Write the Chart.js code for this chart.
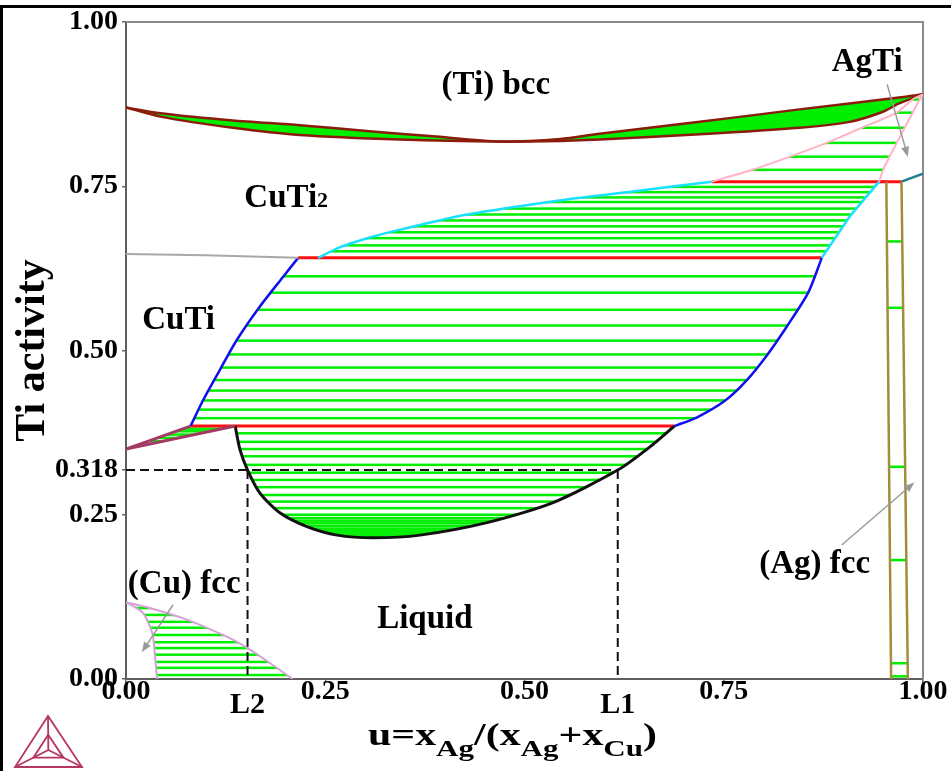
<!DOCTYPE html>
<html>
<head>
<meta charset="utf-8">
<script src="https://cdn.jsdelivr.net/npm/chart.js@4.4.1/dist/chart.umd.min.js"></script>
<style>
html,body{margin:0;padding:0;background:#fff;}
canvas{display:block;}
</style>
</head>
<body>
<canvas id="c" width="951" height="771"></canvas>
<script>
// ---------- axis ticks ----------
const xTickValues = [0, 0.1525, 0.25, 0.5, 0.617, 0.75, 1];
const xTickLabels = ['0.00', 'L2', '0.25', '0.50', 'L1', '0.75', '1.00'];
const yTickValues = [0, 0.25, 0.318, 0.5, 0.75, 1];
const yTickLabels = ['0.00', '0.25', '0.318', '0.50', '0.75', '1.00'];

// ---------- phase boundaries: [u, Ti activity] ----------
const bccUpper = [[0,0.870],[0.043,0.861],[0.134,0.850],[0.218,0.843],[0.302,0.834],[0.385,0.826],[0.469,0.818],[0.545,0.822],[0.594,0.830],[0.720,0.848],[0.845,0.867],[0.970,0.885],[1,0.890]];
const bccLower = [[0,0.870],[0.043,0.856],[0.134,0.839],[0.218,0.828],[0.344,0.821],[0.469,0.818],[0.545,0.819],[0.594,0.821],[0.720,0.829],[0.845,0.839],[0.908,0.848],[0.949,0.863],[0.970,0.876],[1,0.890]];
const cuTiCuTi2 = [[0,0.647],[0.10,0.645],[0.216,0.641]];
const tie641 = [[0.216,0.641],[0.873,0.641]];
const tie757 = [[0.735,0.757],[0.973,0.757]];
const tie385 = [[0.081,0.385],[0.688,0.385]];
const cyanUpper = [[0.241,0.641],[0.268,0.657],[0.306,0.672],[0.344,0.684],[0.428,0.707],[0.553,0.730],[0.636,0.742],[0.735,0.757]];
const cyanRight = [[0.945,0.757],[0.908,0.704],[0.873,0.641]];
const blueLeft = [[0.216,0.641],[0.197,0.612],[0.168,0.567],[0.139,0.516],[0.118,0.471],[0.097,0.425],[0.081,0.385]];
const blueRight = [[0.688,0.385],[0.716,0.398],[0.751,0.423],[0.779,0.455],[0.805,0.494],[0.830,0.538],[0.856,0.588],[0.873,0.641]];
const liquidGap = [[0.137,0.385],[0.143,0.349],[0.1525,0.318],[0.168,0.283],[0.193,0.253],[0.227,0.232],[0.265,0.219],[0.310,0.215],[0.369,0.219],[0.453,0.238],[0.535,0.268],[0.617,0.318],[0.657,0.353],[0.688,0.385]];
const wedgeUpper = [[0,0.350],[0.081,0.385]];
const wedgeLower = [[0,0.350],[0.137,0.385]];
const cuFccSolvus = [[0,0.117],[0.021,0.101],[0.033,0.070],[0.036,0.040],[0.039,0]];
const cuFccLiquidus = [[0,0.117],[0.030,0.108],[0.077,0.090],[0.127,0.064],[0.1525,0.047],[0.181,0.024],[0.209,0]];
const agTiLeft = [[0.735,0.757],[0.786,0.775],[0.833,0.795],[0.879,0.816],[0.923,0.839],[0.967,0.862],[0.987,0.882],[1,0.890]];
const agTiRight = [[0.945,0.757],[0.950,0.775],[0.958,0.795],[0.967,0.816],[0.977,0.839],[0.987,0.862],[0.996,0.882],[1,0.890]];
const agFccLeft = [[0.954,0.757],[0.960,0]];
const agFccRight = [[0.973,0.757],[0.981,0]];
const tealLine = [[0.973,0.757],[1,0.769]];
const purpleBit = [[0.945,0.757],[0.954,0.757]];

// ---------- guide lines (L2, L1 at Ti activity 0.318) ----------
const guideY = 0.318, L2 = 0.1525, L1 = 0.617;

// ---------- tie-line levels (Ti activity) ----------
const tiesCuTiLiq = [0.613,0.588,0.562,0.538,0.515,0.494,0.474,0.455,0.439,0.424,0.410,0.397];
const tiesCuTi2Liq = [0.651,0.660,0.671,0.680,0.689,0.698,0.707,0.716,0.726,0.733,0.741,0.749];
const tiesAgTiLiq = [0.775,0.795,0.816,0.839,0.862,0.882];
const tiesLiqLiq = [0.374,0.361,0.350,0.339,0.326,0.314,0.303,0.292,0.280,0.270,0.260,0.250,0.245,0.241,0.237,0.233,0.229,0.226,0.223,0.220,0.217];
const tiesCuFcc = [0.108,0.0975,0.087,0.078,0.067,0.056,0.047,0.037,0.026,0.017,0.006];
const tiesWedge = [0.356,0.362,0.367,0.372,0.377,0.381];
const tiesAgFcc = [0.666,0.565,0.323,0.181,0.024,0.004];

// ---------- labels ----------
const phaseLabels = [
  {text:'(Ti) bcc', u:0.464, a:0.890},
  {text:'AgTi', u:0.930, a:0.925},
  {text:'CuTi', sub:'2', u:0.201, a:0.719},
  {text:'CuTi', u:0.066, a:0.532},
  {text:'(Cu) fcc', u:0.073, a:0.131},
  {text:'Liquid', u:0.375, a:0.078},
  {text:'(Ag) fcc', u:0.864, a:0.161}
];
const labelArrows = [
  {from:[0.955,0.905], to:[0.981,0.795]},
  {from:[0.059,0.113], to:[0.020,0.041]},
  {from:[0.898,0.204], to:[0.989,0.299]}
];
const xTitleParts = [['u=x',0],['Ag',1],['/(x',0],['Ag',1],['+x',0],['Cu',1],[')',0]];

const SERIF = '"Liberation Serif", "Times New Roman", serif';
const GREEN = '#00ee00';

const XY = arr => arr.map(p => ({x:p[0], y:p[1]}));
const rev = arr => arr.slice().reverse();

function hatch(levels, width) {
  return (ctx) => {
    const chart = ctx.chart;
    if (!chart || !chart.chartArea || !chart.scales || !chart.scales.y) return 'rgba(0,0,0,0)';
    const ys = chart.scales.y;
    const c = document.createElement('canvas');
    c.width = 8; c.height = Math.ceil(chart.height);
    const g = c.getContext('2d');
    g.fillStyle = GREEN;
    levels.forEach(l => {
      const y = ys.getPixelForValue(l);
      g.fillRect(0, y - width / 2, 8, width);
    });
    return chart.ctx.createPattern(c, 'repeat');
  };
}

function lineDS(pts, color, width, extra) {
  return Object.assign({
    data: XY(pts), borderColor: color, borderWidth: width,
    pointRadius: 0, pointHoverRadius: 0, pointHitRadius: 0,
    fill: false, tension: 0, order: 1
  }, extra || {});
}
function regionDS(poly, bg) {
  return {
    data: XY(poly), borderColor: 'rgba(0,0,0,0)', borderWidth: 0,
    pointRadius: 0, pointHoverRadius: 0, pointHitRadius: 0,
    fill: 'shape', backgroundColor: bg, tension: 0, order: 10
  };
}

const datasets = [
  // hatched / filled regions
  regionDS(blueLeft.concat(blueRight), hatch(tiesCuTiLiq, 2.5)),
  regionDS(cyanUpper.concat(cyanRight), hatch(tiesCuTi2Liq, 2.5)),
  regionDS(agTiLeft.concat(rev(agTiRight)), hatch(tiesAgTiLiq, 2.5)),
  regionDS(liquidGap, hatch(tiesLiqLiq, 2.5)),
  regionDS(cuFccSolvus.concat(rev(cuFccLiquidus)), hatch(tiesCuFcc, 2.5)),
  regionDS(wedgeUpper.concat(rev(wedgeLower)), hatch(tiesWedge, 2.5)),
  regionDS(agFccLeft.concat(rev(agFccRight)), hatch(tiesAgFcc, 2.5)),
  regionDS(bccUpper.concat(rev(bccLower)), GREEN),
  // guide dashed lines
  lineDS([[0,guideY],[L1,guideY]], '#111', 2, {borderDash:[9,5], order:2}),
  lineDS([[L2,guideY],[L2,0]], '#111', 2, {borderDash:[9,5], order:2}),
  lineDS([[L1,guideY],[L1,0]], '#111', 2, {borderDash:[9,5], order:2}),
  // boundaries
  lineDS(cuTiCuTi2, '#a8a8a8', 2),
  lineDS(agTiLeft, '#ffb3c3', 2, {tension:0.25}),
  lineDS(agTiRight, '#ffb3c3', 2, {tension:0.25}),
  lineDS(cuFccSolvus, '#d6a0d8', 2, {tension:0.25}),
  lineDS(cuFccLiquidus, '#d6a0d8', 2, {tension:0.25}),
  lineDS(agFccLeft, '#a38d3a', 2.5),
  lineDS(agFccRight, '#a38d3a', 2.5),
  lineDS(tealLine, '#1f7f8f', 2.5),
  lineDS(wedgeUpper, '#a33a63', 3),
  lineDS(wedgeLower, '#a33a63', 3),
  lineDS(cyanUpper, '#18e0ff', 2.5, {tension:0.25}),
  lineDS(cyanRight, '#18e0ff', 2.5),
  lineDS(blueLeft, '#1010ee', 2.5, {tension:0.25}),
  lineDS(blueRight, '#1010ee', 2.5, {tension:0.25}),
  lineDS(liquidGap, '#111111', 3, {tension:0.25}),
  lineDS(tie641, '#ff1010', 3),
  lineDS(tie757, '#ff1010', 3),
  lineDS(tie385, '#ff1010', 3),
  lineDS(purpleBit, '#9b4dff', 3),
  lineDS(bccUpper, '#8b1c0c', 2.5, {tension:0.25}),
  lineDS(bccLower, '#8b1c0c', 2.5, {tension:0.25})
];

const decorPlugin = {
  id: 'decor',
  beforeDatasetsDraw(chart) {
    const {ctx, chartArea: a} = chart;
    ctx.save();
    ctx.strokeStyle = '#8c8c8c'; ctx.lineWidth = 2;
    ctx.beginPath();
    ctx.moveTo(a.left, a.top); ctx.lineTo(a.right, a.top); ctx.lineTo(a.right, a.bottom);
    ctx.stroke();
    ctx.restore();
  },
  afterDraw(chart) {
    const {ctx} = chart;
    const xs = chart.scales.x, ys = chart.scales.y;
    const P = (u, v) => [xs.getPixelForValue(u), ys.getPixelForValue(v)];
    ctx.save();
    // arrows
    ctx.strokeStyle = '#9a9a9a'; ctx.fillStyle = '#9a9a9a'; ctx.lineWidth = 1.5;
    labelArrows.forEach(ar => {
      const [x1, y1] = P(ar.from[0], ar.from[1]);
      const [x2, y2] = P(ar.to[0], ar.to[1]);
      const ang = Math.atan2(y2 - y1, x2 - x1);
      ctx.beginPath(); ctx.moveTo(x1, y1); ctx.lineTo(x2 - 6 * Math.cos(ang), y2 - 6 * Math.sin(ang)); ctx.stroke();
      ctx.beginPath();
      ctx.moveTo(x2, y2);
      ctx.lineTo(x2 - 10 * Math.cos(ang) + 4 * Math.sin(ang), y2 - 10 * Math.sin(ang) - 4 * Math.cos(ang));
      ctx.lineTo(x2 - 10 * Math.cos(ang) - 4 * Math.sin(ang), y2 - 10 * Math.sin(ang) + 4 * Math.cos(ang));
      ctx.closePath(); ctx.fill();
    });
    // phase labels
    ctx.fillStyle = '#000';
    ctx.textBaseline = 'alphabetic';
    phaseLabels.forEach(l => {
      const [x, y] = P(l.u, l.a);
      ctx.font = 'bold 33px ' + SERIF;
      const w1 = ctx.measureText(l.text).width;
      let w2 = 0;
      if (l.sub) { ctx.font = 'bold 22px ' + SERIF; w2 = ctx.measureText(l.sub).width; }
      const x0 = x - (w1 + w2) / 2;
      ctx.font = 'bold 33px ' + SERIF;
      ctx.textAlign = 'left';
      ctx.fillText(l.text, x0, y);
      if (l.sub) { ctx.font = 'bold 22px ' + SERIF; ctx.fillText(l.sub, x0 + w1, y); }
    });
    // x axis title with subscripts
    const mainF = 'bold 31px ' + SERIF, subF = 'bold 23px ' + SERIF;
    let total = 0;
    xTitleParts.forEach(p => { ctx.font = p[1] ? subF : mainF; total += ctx.measureText(p[0]).width; });
    const target = 289, sx = target / total;
    ctx.save();
    ctx.translate(512.5 - target / 2, 0);
    ctx.scale(sx, 1);
    let cx = 0;
    xTitleParts.forEach(p => {
      ctx.font = p[1] ? subF : mainF;
      ctx.fillText(p[0], cx, p[1] ? 756 : 745);
      cx += ctx.measureText(p[0]).width;
    });
    ctx.restore();
    // Thermo-Calc style logo
    ctx.strokeStyle = '#b5375e'; ctx.lineWidth = 1.8;
    const A = [48, 716], B = [15, 767], C = [82, 767];
    const G = [(A[0] + B[0] + C[0]) / 3, (A[1] + B[1] + C[1]) / 3];
    const inner = [A, B, C].map(p => [G[0] + (p[0] - G[0]) * 0.45, G[1] + (p[1] - G[1]) * 0.45]);
    ctx.beginPath(); ctx.moveTo(A[0], A[1]); ctx.lineTo(B[0], B[1]); ctx.lineTo(C[0], C[1]); ctx.closePath(); ctx.stroke();
    ctx.beginPath(); ctx.moveTo(inner[0][0], inner[0][1]); ctx.lineTo(inner[1][0], inner[1][1]); ctx.lineTo(inner[2][0], inner[2][1]); ctx.closePath(); ctx.stroke();
    [A, B, C].forEach(p => { ctx.beginPath(); ctx.moveTo(p[0], p[1]); ctx.lineTo(G[0], G[1]); ctx.stroke(); });
    // image frame
    ctx.strokeStyle = '#000'; ctx.lineWidth = 3;
    ctx.strokeRect(1.5, 6.5, 2000, 2000);
    ctx.restore();
  }
};

new Chart(document.getElementById('c'), {
  type: 'line',
  data: { datasets },
  options: {
    responsive: false,
    animation: false,
    devicePixelRatio: 1,
    events: [],
    layout: { padding: { top: 22, right: 28, left: 0, bottom: 0 } },
    plugins: { legend: { display: false }, tooltip: { enabled: false } },
    scales: {
      x: {
        type: 'linear', min: 0, max: 1,
        afterBuildTicks: s => { s.ticks = xTickValues.map(v => ({ value: v })); },
        afterFit: s => { s.height = 92; },
        ticks: {
          autoSkip: false, maxRotation: 0, minRotation: 0, padding: -5, color: '#000',
          callback: (v, i) => { const l = xTickLabels[i]; return l.charAt(0) === 'L' ? ['', l] : l; },
          font: c => (xTickLabels[c.index] || '').charAt(0) === 'L'
            ? { family: SERIF, size: 30, weight: 'bold', lineHeight: '18px' }
            : { family: SERIF, size: 28, weight: 'bold', lineHeight: 1 }
        },
        grid: { drawOnChartArea: false, drawTicks: true, tickLength: 4, lineWidth: 1.5,
          color: c => (xTickLabels[c.index] || '').charAt(0) === 'L' ? 'rgba(0,0,0,0)' : '#666' },
        border: { display: true, color: '#5f5f5f', width: 2 }
      },
      y: {
        type: 'linear', min: 0, max: 1,
        afterBuildTicks: s => { s.ticks = yTickValues.map(v => ({ value: v })); },
        afterFit: s => { s.width = 126; },
        ticks: {
          autoSkip: false, padding: 4, color: '#000',
          callback: (v, i) => yTickLabels[i],
          font: { family: SERIF, size: 28, weight: 'bold', lineHeight: 1.2 }
        },
        grid: { drawOnChartArea: false, drawTicks: true, tickLength: 4, lineWidth: 1.5, color: '#666' },
        border: { display: true, color: '#5f5f5f', width: 2 },
        title: {
          display: true, text: 'Ti activity', color: '#000',
          font: { family: SERIF, size: 42, weight: 'bold', lineHeight: 1.2 },
          padding: { top: 8, bottom: 0 }
        }
      }
    }
  },
  plugins: [decorPlugin]
});
</script>
</body>
</html>
